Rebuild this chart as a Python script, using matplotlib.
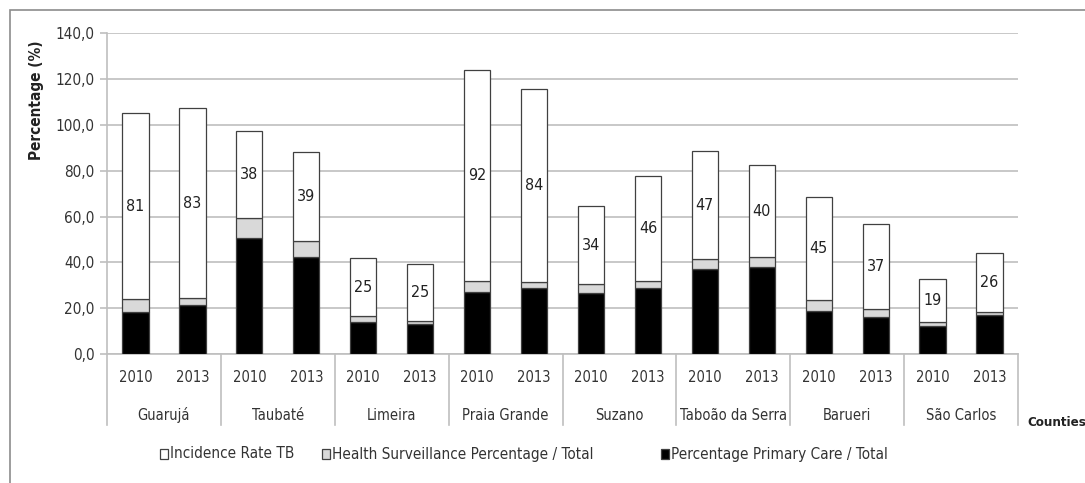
import numpy as np
import matplotlib
matplotlib.use('Agg')
import matplotlib.pyplot as plt
from matplotlib.patches import Rectangle
import matplotlib.transforms as mtransforms

plt.rcParams['font.family'] = ['DejaVu Sans']
plt.rcParams['font.stretch'] = 'condensed'

counties = ['Guarujá', 'Taubaté', 'Limeira', 'Praia Grande', 'Suzano',
            'Taboão da Serra', 'Barueri', 'São Carlos']
years = ['2010', '2013']

# one value per county/year, in the order 2010, 2013 for each county
primary_care = [18.5, 21.5, 50.5, 42.5, 14.1, 13.0, 26.9, 28.7,
                26.6, 28.7, 37.3, 38.0, 18.9, 16.3, 12.1, 17.2]
health_surveillance = [5.5, 2.8, 8.7, 6.7, 2.6, 1.5, 5.0, 2.9,
                       3.8, 3.2, 4.2, 4.4, 4.7, 3.4, 1.7, 1.1]
incidence_rate = [81, 83, 38, 39, 25, 25, 92, 84,
                  34, 46, 47, 40, 45, 37, 19, 26]

W, H = 1085, 483
fig = plt.figure(figsize=(W / 100, H / 100), dpi=100)
fig.patch.set_facecolor('white')

# outer chart frame (left and top edges only show)
fig.add_artist(Rectangle((10 / W, -0.1), 1.2, 1.1 - 10 / H,
                         transform=fig.transFigure, fill=False,
                         edgecolor='#8c8c8c', linewidth=1.2))

ax = fig.add_axes([107 / W, (H - 354) / H, (1018 - 107) / W, (354 - 33.3) / H])

x = np.arange(len(primary_care))
pc = np.array(primary_care)
hs = np.array(health_surveillance)
ir = np.array(incidence_rate)
bw = 0.46
edge = '#404040'

ax.bar(x, pc, bw, color='black', edgecolor=edge, linewidth=0.9, zorder=3)
ax.bar(x, hs, bw, bottom=pc, color='#d9d9d9', edgecolor=edge, linewidth=0.9, zorder=3)
ax.bar(x, ir, bw, bottom=pc + hs, color='white', edgecolor=edge, linewidth=0.9, zorder=3)

for xi, base, val in zip(x, pc + hs, ir):
    ax.text(xi, base + val / 2, f'{val}', ha='center', va='center',
            fontsize=11.5, color='#222222', zorder=4)

ax.set_ylim(0, 140)
ax.set_xlim(-0.5, len(x) - 0.5)
ax.set_yticks(np.arange(0, 141, 20))
ax.set_yticklabels([f'{v:.1f}'.replace('.', ',') for v in np.arange(0, 141, 20)])
ax.yaxis.grid(True, color='#bfbfbf', linewidth=1.2, zorder=0)
ax.set_axisbelow(True)
ax.tick_params(axis='y', length=5, width=1.2, color='#bfbfbf', pad=4,
               labelsize=11, labelcolor='#333333')
ax.set_xticks([])
for side in ['top', 'right']:
    ax.spines[side].set_visible(False)
for side in ['left', 'bottom']:
    ax.spines[side].set_color('#bfbfbf')
    ax.spines[side].set_linewidth(1.2)

# two-level category axis: years, then county names between separators
trans = mtransforms.blended_transform_factory(ax.transData, ax.transAxes)
ax_h = 354 - 33.3
for i, yr in enumerate(years * len(counties)):
    ax.text(i, -(378 - 354) / ax_h, yr, transform=trans, ha='center', va='center',
            fontsize=10.5, color='#333333')
for j, name in enumerate(counties):
    ax.text(2 * j + 0.5, -(415 - 354) / ax_h, name, transform=trans,
            ha='center', va='center', fontsize=10.5, color='#333333')
for k in range(len(counties) + 1):
    ax.plot([2 * k - 0.5, 2 * k - 0.5], [0, -(425 - 354) / ax_h], transform=trans,
            color='#bfbfbf', linewidth=1.2, clip_on=False)

fig.text(1027 / W, 1 - 422 / H, 'Counties', ha='left', va='center',
         fontsize=9.5, fontweight='bold', color='#222222')
fig.text(37 / W, 1 - 100 / H, 'Percentage (%)', rotation=90, ha='center',
         va='center', fontsize=11, fontweight='bold', color='#222222')

# legend
legend_items = [(160, 'white', 'Incidence Rate TB'),
                (322, '#d9d9d9', 'Health Surveillance Percentage / Total'),
                (661, 'black', 'Percentage Primary Care / Total')]
for px, col, label in legend_items:
    fig.add_artist(Rectangle((px / W, 1 - 459 / H), 8 / W, 10 / H,
                             transform=fig.transFigure, facecolor=col,
                             edgecolor='#404040', linewidth=0.9))
    fig.text((px + 10) / W, 1 - 454 / H, label, ha='left', va='center',
             fontsize=11, color='#333333')

fig.savefig('out.png', dpi=100)
